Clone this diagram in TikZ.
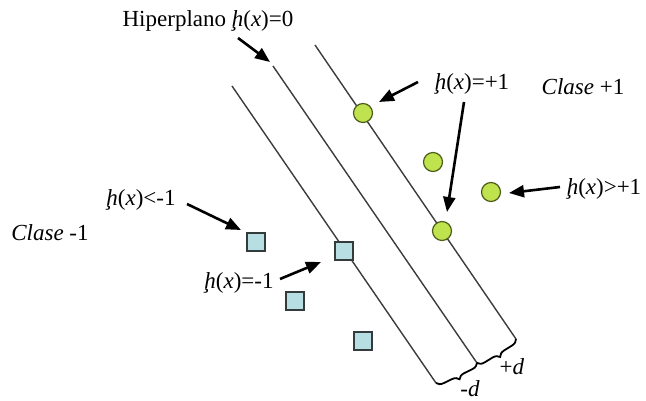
\documentclass[tikz,border=0pt]{standalone}
\usepackage{fontspec}
\setmainfont{Liberation Serif}
\usetikzlibrary{arrows.meta,decorations.pathreplacing}
\definecolor{ptgreen}{HTML}{BFE34E}
\definecolor{ptgreenb}{HTML}{4F5E1A}
\definecolor{ptblue}{HTML}{B7DFE3}
\definecolor{ptblueb}{HTML}{333B3D}
\definecolor{linegray}{HTML}{3C3C3C}
\newcommand{\hx}{\textit{ḩ}(\textit{x})}
\tikzset{
  sepline/.style={draw=linegray, line width=1.4pt},
  ptc/.style={circle, draw=ptgreenb, fill=ptgreen, line width=1.2pt, minimum size=19pt, inner sep=0pt},
  pts/.style={rectangle, draw=ptblueb, fill=ptblue, line width=1.2pt, minimum size=18pt, inner sep=0pt},
  lab/.style={font=\fontsize{23}{26}\selectfont, inner sep=0pt},
  arr/.style={-{Triangle[length=15pt,width=12pt]}, line width=2.6pt, black},
  brc/.style={decorate, decoration={brace, amplitude=7pt, mirror}, line width=1.8pt, black}
}
\begin{document}
\begin{tikzpicture}[x=1pt, y=-1pt]
\useasboundingbox (0,0) rectangle (646,401);
% lines
\coordinate (l1a) at (232,86);  \coordinate (l1b) at (436,383);
\coordinate (l2a) at (273,66);  \coordinate (l2b) at (477,363);
\coordinate (l3a) at (315,45);  \coordinate (l3b) at (516,339);
\draw[sepline] (l1a) -- (l1b);
\draw[sepline] (l2a) -- (l2b);
\draw[sepline] (l3a) -- (l3b);
% braces
\draw[brc] (l1b) -- (l2b);
\draw[brc] (l2b) -- (l3b);
\node[lab] (md) at (470,389) {-\textit{d}};
\node[lab] (pd) at (512,367) {+\textit{d}};
% points
\node[ptc] (c1) at (363,113) {};
\node[ptc] (c2) at (433,162) {};
\node[ptc] (c3) at (491,192) {};
\node[ptc] (c4) at (442,231) {};
\node[pts] (s1) at (256,242) {};
\node[pts] (s2) at (344,251) {};
\node[pts] (s3) at (295,301) {};
\node[pts] (s4) at (363,341) {};
% labels
\node[lab] (hip) at (208,21) {Hiperplano \hx=0};
\node[lab] (cp) at (583,87) {\textit{Clase} +1};
\node[lab] (cm) at (50,233) {\textit{Clase} -1};
\node[lab] (hp1) at (472,84) {\hx=+1};
\node[lab] (hgt) at (604,189) {\hx>+1};
\node[lab] (hlt) at (141,200) {\hx<-1};
\node[lab] (hm1) at (239,283) {\hx=-1};
% arrows
\coordinate (a1s) at (238,38);  \coordinate (a1e) at (270,62);
\coordinate (a2s) at (418,82);  \coordinate (a2e) at (379,102);
\coordinate (a3s) at (464,102); \coordinate (a3e) at (447,212);
\coordinate (a4s) at (560,187); \coordinate (a4e) at (509,193);
\coordinate (a5s) at (187,204); \coordinate (a5e) at (241,230);
\coordinate (a6s) at (280,279); \coordinate (a6e) at (321,262);
\draw[arr] (a1s) -- (a1e);
\draw[arr] (a2s) -- (a2e);
\draw[arr] (a3s) -- (a3e);
\draw[arr] (a4s) -- (a4e);
\draw[arr] (a5s) -- (a5e);
\draw[arr] (a6s) -- (a6e);
\end{tikzpicture}
\end{document}
